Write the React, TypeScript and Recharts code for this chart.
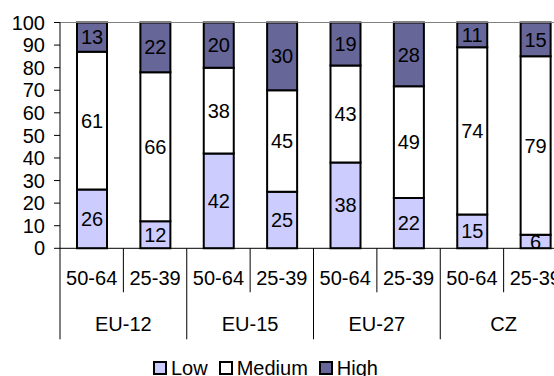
import { BarChart, Bar, XAxis, YAxis, LabelList, ReferenceLine } from "recharts";

// categories
const regions = ["EU-12", "EU-12", "EU-15", "EU-15", "EU-27", "EU-27", "CZ", "CZ"];
const ageGroups = ["50-64", "25-39", "50-64", "25-39", "50-64", "25-39", "50-64", "25-39"];

// shares per level, %
const low = [26, 12, 42, 25, 38, 22, 15, 6];
const medium = [61, 66, 38, 45, 43, 49, 74, 79];
const high = [13, 22, 20, 30, 19, 28, 11, 15];

const yTicks = [0, 10, 20, 30, 40, 50, 60, 70, 80, 90, 100];

const data = ageGroups.map((age, i) => ({
  age,
  region: regions[i],
  low: low[i],
  medium: medium[i],
  high: high[i],
}));

const FONT = "'Liberation Sans', Arial, sans-serif";
const COLORS = { low: "#CCCCFF", medium: "#FFFFFF", high: "#666699" };

// layout
const CHART_W = 580;
const CHART_H = 376;
const Y_W = 60;
const MARGIN = { top: 22.5, right: 13, left: 0, bottom: 36.7 };
const AGE_H = 44;
const REGION_H = 47;
const AXIS_Y = CHART_H - MARGIN.bottom - AGE_H - REGION_H;
const SLOT = (CHART_W - MARGIN.left - Y_W - MARGIN.right) / data.length;

const AgeTick = (props: any) => {
  const { x, payload, index } = props;
  const left = x - SLOT / 2;
  const right = x + SLOT / 2;
  return (
    <g>
      <line
        x1={left}
        x2={left}
        y1={AXIS_Y}
        y2={index % 2 === 0 ? AXIS_Y + AGE_H + 47 : AXIS_Y + AGE_H}
        stroke="#000"
      />
      {index === data.length - 1 && (
        <line x1={right} x2={right} y1={AXIS_Y} y2={AXIS_Y + AGE_H + 47} stroke="#000" />
      )}
      <text
        x={x}
        y={AXIS_Y + 30}
        textAnchor="middle"
        dominantBaseline="central"
        fontSize={20}
        fontFamily={FONT}
        fill="#000"
      >
        {payload.value}
      </text>
    </g>
  );
};

const RegionTick = (props: any) => {
  const { x, payload } = props;
  return (
    <text
      x={x}
      y={AXIS_Y + AGE_H + 32}
      textAnchor="middle"
      dominantBaseline="central"
      fontSize={20}
      fontFamily={FONT}
      fill="#000"
    >
      {payload.value}
    </text>
  );
};

const legendItems = [
  { name: "Low", color: COLORS.low },
  { name: "Medium", color: COLORS.medium },
  { name: "High", color: COLORS.high },
];

const labelStyle = { fill: "#000", fontSize: 20, fontFamily: FONT, stroke: "none" };

export default function App() {
  return (
    <div
      style={{
        position: "absolute",
        left: 0,
        top: 0,
        width: 554,
        height: 376,
        overflow: "hidden",
        background: "#fff",
        fontFamily: FONT,
      }}
    >
      <BarChart
        width={CHART_W}
        height={CHART_H}
        data={data}
        margin={MARGIN}
        stackOffset="expand"
      >
        <XAxis
          xAxisId="age"
          dataKey="age"
          height={AGE_H}
          axisLine={{ stroke: "#000" }}
          tickLine={false}
          tick={<AgeTick />}
          interval={0}
        />
        <XAxis
          xAxisId="region"
          dataKey="region"
          allowDuplicatedCategory={false}
          height={REGION_H}
          axisLine={false}
          tickLine={false}
          tick={<RegionTick />}
          interval={0}
        />
        <YAxis
          width={Y_W}
          type="number"
          domain={[0, 1]}
          ticks={yTicks.map((t) => t / 100)}
          tickFormatter={(v: number) => String(Math.round(v * 100))}
          axisLine={{ stroke: "#000" }}
          tickLine={{ stroke: "#000" }}
          tickSize={6}
          tickMargin={9}
          tick={{ fill: "#000", fontSize: 20, fontFamily: FONT }}
          interval={0}
        />
        <ReferenceLine xAxisId="age" y={1} stroke="#808080" />
        <Bar xAxisId="age" dataKey="low" stackId="a" fill={COLORS.low} stroke="#000" strokeWidth={2} barSize={30} isAnimationActive={false}>
          <LabelList dataKey="low" position="center" style={labelStyle} />
        </Bar>
        <Bar xAxisId="age" dataKey="medium" stackId="a" fill={COLORS.medium} stroke="#000" strokeWidth={2} barSize={30} isAnimationActive={false}>
          <LabelList dataKey="medium" position="center" style={labelStyle} />
        </Bar>
        <Bar xAxisId="age" dataKey="high" stackId="a" fill={COLORS.high} stroke="#000" strokeWidth={2} barSize={30} isAnimationActive={false}>
          <LabelList dataKey="high" position="center" style={labelStyle} />
        </Bar>
      </BarChart>

      {/* legend */}
      <div
        style={{
          position: "absolute",
          left: 153,
          top: 357,
          display: "flex",
          alignItems: "center",
          fontSize: 20,
          lineHeight: "22px",
          color: "#000",
        }}
      >
        {legendItems.map((item) => (
          <div key={item.name} style={{ display: "flex", alignItems: "center", marginRight: 11 }}>
            <span
              style={{
                width: 10,
                height: 10,
                border: "2px solid #000",
                background: item.color,
                marginRight: 4,
              }}
            />
            <span>{item.name}</span>
          </div>
        ))}
      </div>
    </div>
  );
}
